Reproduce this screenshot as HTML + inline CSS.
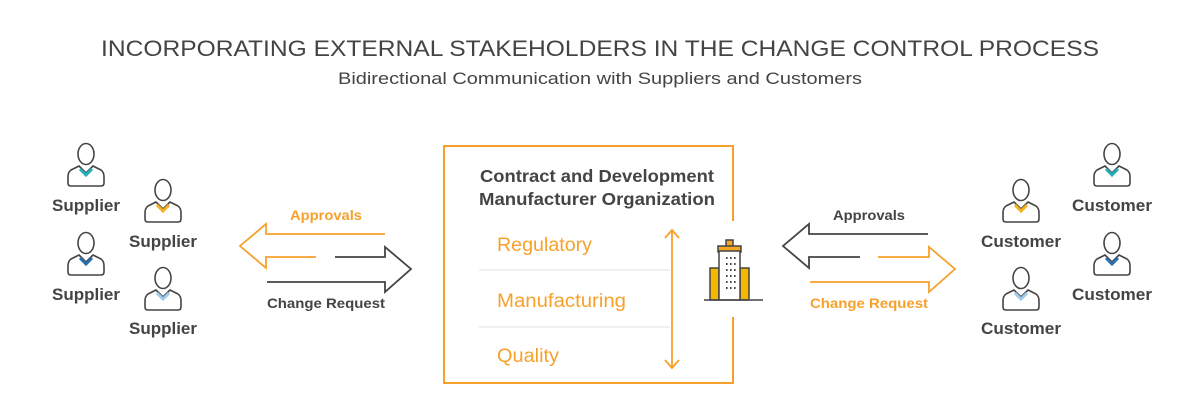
<!DOCTYPE html>
<html><head><meta charset="utf-8"><style>
html,body{margin:0;padding:0;background:#fff;}
svg{display:block;font-family:"Liberation Sans",sans-serif;}
</style></head><body>
<svg width="1200" height="418" viewBox="0 0 1200 418" xmlns="http://www.w3.org/2000/svg">
<defs>
<g id="p">
<ellipse cx="0" cy="-31" rx="8" ry="10.5" fill="#fff" stroke="#444" stroke-width="1.6"/>
<path d="M-7,-19 L-15,-15 Q-18,-13 -18,-8 L-18,-2 Q-18,1 -15,1 L15,1 Q18,1 18,-2 L18,-8 Q18,-13 15,-15 L7,-19 L0,-12 Z" fill="#fff" stroke="#444" stroke-width="1.6" stroke-linejoin="round"/>
</g>
</defs>
<text x="600" y="56" text-anchor="middle" font-size="22.5" fill="#444" textLength="998" lengthAdjust="spacingAndGlyphs">INCORPORATING EXTERNAL STAKEHOLDERS IN THE CHANGE CONTROL PROCESS</text>
<text x="600" y="84" text-anchor="middle" font-size="17" fill="#444" textLength="524" lengthAdjust="spacingAndGlyphs">Bidirectional Communication with Suppliers and Customers</text>

<g font-size="16.5" font-weight="bold" fill="#444" text-anchor="middle">
<use href="#p" x="86" y="185"/><path d="M80,169 L86,175 L92,169" fill="none" stroke="#26b0b8" stroke-width="3"/>
<text x="86" y="211" textLength="68" lengthAdjust="spacingAndGlyphs">Supplier</text>
<use href="#p" x="163" y="221"/><path d="M157,205 L163,211 L169,205" fill="none" stroke="#f5b021" stroke-width="3"/>
<text x="163" y="247" textLength="68" lengthAdjust="spacingAndGlyphs">Supplier</text>
<use href="#p" x="86" y="274"/><path d="M80,258 L86,264 L92,258" fill="none" stroke="#2a6fa8" stroke-width="3"/>
<text x="86" y="300" textLength="68" lengthAdjust="spacingAndGlyphs">Supplier</text>
<use href="#p" x="163" y="309"/><path d="M157,293 L163,299 L169,293" fill="none" stroke="#9fcbea" stroke-width="3"/>
<text x="163" y="334" textLength="68" lengthAdjust="spacingAndGlyphs">Supplier</text>

<use href="#p" x="1112" y="185"/><path d="M1106,169 L1112,175 L1118,169" fill="none" stroke="#26b0b8" stroke-width="3"/>
<text x="1112" y="211" textLength="80" lengthAdjust="spacingAndGlyphs">Customer</text>
<use href="#p" x="1021" y="221"/><path d="M1015,205 L1021,211 L1027,205" fill="none" stroke="#f5b021" stroke-width="3"/>
<text x="1021" y="247" textLength="80" lengthAdjust="spacingAndGlyphs">Customer</text>
<use href="#p" x="1112" y="274"/><path d="M1106,258 L1112,264 L1118,258" fill="none" stroke="#2a6fa8" stroke-width="3"/>
<text x="1112" y="300" textLength="80" lengthAdjust="spacingAndGlyphs">Customer</text>
<use href="#p" x="1021" y="309"/><path d="M1015,293 L1021,299 L1027,293" fill="none" stroke="#9fcbea" stroke-width="3"/>
<text x="1021" y="334" textLength="80" lengthAdjust="spacingAndGlyphs">Customer</text>
</g>

<g fill="none" stroke-width="1.8" stroke-linejoin="miter">
<path d="M385,234 L266,234 L266,224 L240,246 L266,268 L266,257 L316,257" stroke="#f7a12c"/>
<path d="M335,257 L385,257 L385,247 L411,269 L385,292 L385,282 L267,282" stroke="#444"/>
<path d="M928,234 L809,234 L809,224 L783,246 L809,268 L809,257 L860,257" stroke="#444"/>
<path d="M878,257 L929,257 L929,247 L955,269 L929,292 L929,282 L810,282" stroke="#f7a12c"/>
</g>
<g font-size="14" font-weight="bold" text-anchor="middle">
<text x="326" y="220" fill="#f7a12c" textLength="72" lengthAdjust="spacingAndGlyphs">Approvals</text>
<text x="326" y="308" fill="#444" textLength="118" lengthAdjust="spacingAndGlyphs">Change Request</text>
<text x="869" y="220" fill="#444" textLength="72" lengthAdjust="spacingAndGlyphs">Approvals</text>
<text x="869" y="308" fill="#f7a12c" textLength="118" lengthAdjust="spacingAndGlyphs">Change Request</text>
</g>

<path d="M733,221 L733,146 L444,146 L444,383 L733,383 L733,317" fill="none" stroke="#f7a12c" stroke-width="2"/>
<g font-size="17.5" font-weight="bold" fill="#444" text-anchor="middle">
<text x="597" y="182" textLength="234" lengthAdjust="spacingAndGlyphs">Contract and Development</text>
<text x="597" y="205" textLength="236" lengthAdjust="spacingAndGlyphs">Manufacturer Organization</text>
</g>
<g font-size="19" fill="#f7a12c">
<text x="497" y="251" textLength="95" lengthAdjust="spacingAndGlyphs">Regulatory</text>
<text x="497" y="307" textLength="129" lengthAdjust="spacingAndGlyphs">Manufacturing</text>
<text x="497" y="362" textLength="62" lengthAdjust="spacingAndGlyphs">Quality</text>
</g>
<line x1="479" y1="270" x2="670" y2="270" stroke="#e8e8e8" stroke-width="1.2"/>
<line x1="479" y1="327" x2="670" y2="327" stroke="#e8e8e8" stroke-width="1.2"/>
<g stroke="#f7a12c" stroke-width="1.8" fill="none">
<line x1="672" y1="230" x2="672" y2="368"/>
<path d="M665,238 L672,230 L679,238"/>
<path d="M665,360 L672,368 L679,360"/>
</g>
<g stroke="#444" stroke-width="1.5">
<rect x="726" y="240" width="7" height="7" fill="#f5a623"/>
<rect x="718" y="246" width="23" height="6" fill="#f5a623"/>
<rect x="710" y="268" width="9" height="32" fill="#f5b800"/>
<rect x="740" y="268" width="9" height="32" fill="#f5b800"/>
<rect x="719" y="251" width="21" height="49" fill="#fff"/>
<line x1="704" y1="300" x2="763" y2="300"/>
</g>
<g fill="#444">
<rect x="726" y="257" width="1.6" height="2"/><rect x="730" y="257" width="1.6" height="2"/><rect x="734" y="257" width="1.6" height="2"/>
<rect x="726" y="263" width="1.6" height="2"/><rect x="730" y="263" width="1.6" height="2"/><rect x="734" y="263" width="1.6" height="2"/>
<rect x="726" y="269" width="1.6" height="2"/><rect x="730" y="269" width="1.6" height="2"/><rect x="734" y="269" width="1.6" height="2"/>
<rect x="726" y="275" width="1.6" height="2"/><rect x="730" y="275" width="1.6" height="2"/><rect x="734" y="275" width="1.6" height="2"/>
<rect x="726" y="281" width="1.6" height="2"/><rect x="730" y="281" width="1.6" height="2"/><rect x="734" y="281" width="1.6" height="2"/>
<rect x="726" y="287" width="1.6" height="2"/><rect x="730" y="287" width="1.6" height="2"/><rect x="734" y="287" width="1.6" height="2"/>
</g>
</svg>
</body></html>
